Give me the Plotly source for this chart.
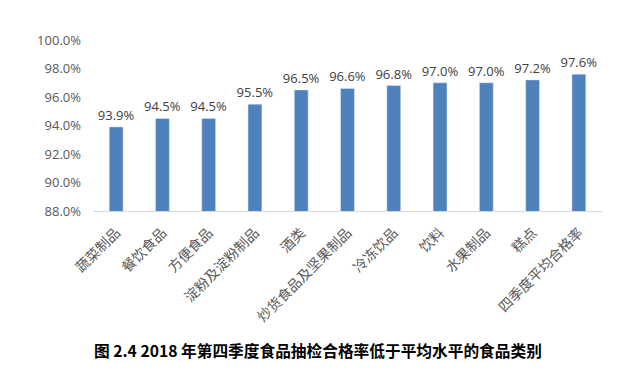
import plotly.graph_objects as go

categories = ["蔬菜制品", "餐饮食品", "方便食品", "淀粉及淀粉制品", "酒类", "炒货食品及坚果制品",
              "冷冻饮品", "饮料", "水果制品", "糕点", "四季度平均合格率"]
values = [93.9, 94.5, 94.5, 95.5, 96.5, 96.6, 96.8, 97.0, 97.0, 97.2, 97.6]
y_ticks = [88, 90, 92, 94, 96, 98, 100]
title_text = "图 2.4 2018 年第四季度食品抽检合格率低于平均水平的食品类别"

fig = go.Figure(go.Bar(
    x=categories, y=values,
    marker_color="#4f81bd",
    width=0.3,
    text=[f"{v:.1f}%" for v in values],
    textposition="outside",
    constraintext="none",
    textfont=dict(family="Open Sans, Noto Sans", size=13, color="#404040"),
    cliponaxis=False,
))

fig.update_layout(
    width=622, height=369,
    margin=dict(l=85, r=28, t=32, b=166, autoexpand=False),
    plot_bgcolor="white", paper_bgcolor="white",
    showlegend=False,
    bargap=0.7,
    xaxis=dict(showline=True, linecolor="#d9d9d9", linewidth=1, ticks="",
               tickangle=-45, automargin=False, ticklabelstandoff=7,
               tickfont=dict(family="Noto Sans CJK SC", size=14, color="#595959")),
    yaxis=dict(range=[88, 100], tickvals=y_ticks, automargin=False,
               ticktext=[f"{v:.1f}%" for v in y_ticks],
               ticklabelstandoff=11,
               showgrid=False, zeroline=False, showline=False,
               tickfont=dict(family="Open Sans, Noto Sans", size=13, color="#595959")),
    annotations=[dict(text="<b>" + title_text + "</b>", xref="paper", yref="paper",
                      x=0.442, y=-0.813, xanchor="center", yanchor="middle", showarrow=False,
                      font=dict(family="Noto Sans CJK SC", size=15.7, color="black"))],
)

fig.write_html("out.html")
